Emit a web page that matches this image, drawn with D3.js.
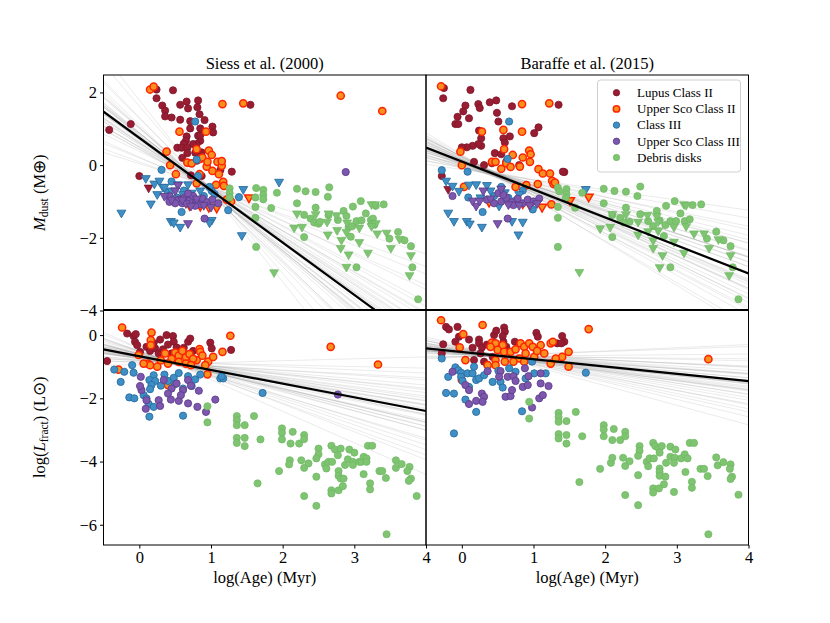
<!DOCTYPE html>
<html>
<head>
<meta charset="utf-8">
<script src="https://cdn.jsdelivr.net/npm/d3@7/dist/d3.min.js"></script>
<style>
  body { margin: 0; background: #fff; }
  svg text { font-family: "Liberation Serif", "Times New Roman", serif; }
</style>
</head>
<body>
<svg width="830" height="623"></svg>
<script>
// ---------- data (log age [Myr], value) ----------
var xTicks = [0, 1, 2, 3, 4];
var yTicksTop = [2, 0, -2, -4];
var yTicksBottom = [0, -2, -4, -6];
var titles = ["Siess et al. (2000)", "Baraffe et al. (2015)"];
var groupNames = ["Lupus Class II", "Upper Sco Class II", "Class III", "Upper Sco Class III", "Debris disks"];

// Siess, M_dust
var lupusSM = [[-0.42,0.97],[-0.12,1.13],[0.24,2.08],[0.47,2.06],[0.24,1.84],[0.32,1.64],[0.57,1.66],[0.66,1.75],[0.82,1.78],[0.68,1.56],[0.81,1.59],[0.36,1.50],[0.36,1.34],[0.45,1.31],[0.57,1.25],[0.71,1.21],[0.91,1.24],[0.84,1.40],[0.71,1.01],[0.85,1.01],[1.02,1.06],[1.03,0.90],[0.66,0.79],[0.65,0.67],[0.62,0.59],[0.82,0.81],[0.85,0.67],[0.80,0.58],[0.53,0.48],[0.59,0.48],[0.67,0.48],[0.75,0.58],[0.67,0.33],[0.78,0.34],[0.87,0.35],[0.80,0.12],[1.29,-0.18],[0.0,-0.30],[0.87,-0.30],[1.55,1.66],[0.85,0.82],[1.13,-0.14],[0.72,-0.28],[0.60,0.20]];
var lupusSM_ul = [[0.13,-0.62]];
var usco2SM = [[0.15,2.08],[0.20,2.16],[1.16,1.68],[1.45,1.70],[2.81,1.91],[3.39,1.49],[0.56,0.92],[0.93,0.92],[0.80,0.44],[0.97,0.40],[1.01,0.28],[0.38,0.37],[0.67,0.07],[0.73,0.05],[0.85,0.17],[0.94,-0.04],[1.09,0.09],[1.15,-0.02],[1.02,-0.16],[1.11,-0.25],[0.43,0.0],[0.51,-0.25],[0.84,-0.25],[1.07,-0.54],[0.80,-0.50],[0.88,0.21],[0.95,0.09],[1.15,0.11],[1.17,-0.46],[1.18,-0.57],[1.28,-1.0],[1.22,-0.95],[0.62,-0.85],[0.75,-1.05]];
var usco2SM_ul = [[1.53,-0.89],[1.08,-1.17],[0.97,-1.15],[0.70,-1.10],[0.85,-1.12]];
var class3SM = [[0.78,1.20],[0.80,0.15],[0.31,-0.13],[0.82,-0.30],[0.52,-0.89],[0.59,-1.29],[1.24,-1.24],[1.01,-0.71],[1.05,-0.80],[1.39,-0.88],[0.45,-0.45],[0.62,-0.70],[0.70,-0.95],[0.90,-0.85],[0.98,-0.60],[0.40,-0.75]];
var class3SM_ul = [[-0.25,-1.31],[0.09,-0.36],[0.21,-0.51],[0.28,-0.43],[0.33,-0.60],[0.35,-0.60],[0.16,-1.06],[0.44,-1.54],[0.48,-1.58],[0.57,-1.70],[0.68,-0.53],[0.54,-0.53],[1.45,-0.66],[1.43,-1.93],[1.01,-1.51],[0.98,-1.58],[0.61,-0.80],[0.73,-0.76],[1.95,-0.46],[0.45,-0.70],[0.85,-0.70],[0.25,-0.80]];
var usco3SM = [[0.42,-0.85],[0.42,-1.01],[0.91,-1.47],[2.88,-0.19],[0.55,-0.95],[0.63,-0.90],[0.70,-0.98],[0.75,-0.85],[0.80,-1.00],[0.88,-0.92],[0.95,-1.02],[1.02,-0.95],[0.60,-1.05],[0.85,-1.08],[0.68,-0.78],[0.50,-1.05],[0.78,-1.12],[1.10,-1.05]];
var usco3SM_ul = [[0.68,-1.60],[0.54,-0.55],[0.50,-0.70],[0.65,-1.05],[0.90,-1.10],[0.60,-0.95],[0.80,-0.92],[0.72,-1.12],[1.00,-1.15],[0.45,-0.95],[0.35,-0.85]];
var debrisSM = [[1.26,-0.64],[1.26,-0.77],[1.26,-0.89],[1.63,-0.63],[1.73,-0.68],[1.73,-0.82],[1.73,-0.94],[1.62,-0.89],[1.62,-1.15],[1.62,-1.45],[1.63,-2.25],[1.84,-1.18],[1.92,-0.76],[2.20,-0.65],[2.32,-0.72],[2.46,-0.74],[2.65,-0.61],[2.63,-0.87],[2.20,-1.05],[2.46,-1.17],[2.30,-1.37],[2.39,-1.47],[2.44,-1.58],[2.50,-1.61],[2.52,-1.56],[2.64,-1.38],[2.77,-1.51],[2.85,-1.26],[2.89,-1.40],[2.92,-1.70],[2.97,-1.68],[3.03,-1.54],[3.09,-0.99],[2.98,-1.14],[3.16,-1.33],[3.10,-1.52],[3.23,-1.51],[3.26,-1.47],[3.30,-1.12],[3.41,-1.08],[2.95,-1.97],[3.03,-2.81],[2.30,-1.98],[3.61,-1.84],[3.70,-2.07],[3.49,-2.02],[3.79,-2.23],[3.81,-2.81],[3.89,-3.69],[3.24,-1.62],[3.28,-1.64]];
var debrisSM_ul = [[2.20,-1.33],[2.16,-1.72],[2.27,-1.70],[2.46,-1.35],[2.64,-1.33],[2.62,-1.56],[2.63,-1.91],[2.75,-1.38],[2.76,-1.79],[2.82,-2.06],[2.81,-2.28],[2.90,-1.58],[2.89,-1.84],[2.92,-2.46],[2.89,-2.80],[3.07,-2.12],[3.07,-1.72],[3.19,-2.41],[3.24,-1.08],[3.29,-1.08],[3.30,-1.60],[3.24,-1.68],[3.32,-1.88],[3.45,-1.86],[3.51,-2.28],[3.63,-2.03],[3.79,-2.48],[3.77,-3.03],[1.88,-2.95]];

// Baraffe, M_dust
var lupusBM = [[-0.25,2.12],[-0.26,1.84],[0.12,2.07],[0.05,1.64],[0.02,1.48],[-0.06,1.33],[-0.09,1.13],[-0.05,1.13],[0.10,1.29],[0.23,1.68],[0.25,1.57],[0.39,1.73],[0.48,1.78],[0.70,1.62],[0.49,1.44],[0.51,1.20],[0.24,0.95],[0.27,0.74],[0.27,0.53],[0.23,0.58],[0.15,0.53],[0.07,0.49],[0.0,0.49],[0.58,0.74],[0.60,0.62],[0.67,0.79],[0.46,0.33],[1.01,0.88],[1.07,1.04],[1.35,1.66],[0.17,0.09],[0.31,0.0],[-0.28,-0.30],[1.43,-0.19],[0.80,0.0],[0.42,0.05],[1.41,-0.18],[0.55,0.30],[0.62,0.10]];
var lupusBM_ul = [[-0.19,-0.66]];
var usco2BM = [[-0.29,2.17],[0.84,1.68],[1.22,1.70],[0.28,0.92],[0.58,0.97],[0.59,0.44],[0.84,0.92],[-0.02,0.37],[0.71,0.28],[0.85,0.21],[0.94,0.40],[0.96,0.30],[0.42,0.09],[0.47,0.09],[0.81,-0.04],[0.95,0.09],[1.07,-0.11],[1.13,-0.23],[1.23,-0.23],[1.26,-0.43],[1.28,-0.52],[0.0,0.0],[0.03,-0.60],[1.06,-0.52],[1.25,-1.08],[0.62,0.05],[0.68,-0.05],[0.55,-0.10],[1.30,-0.48],[0.75,-0.60],[0.90,-0.55]];
var usco2BM_ul = [[0.38,-1.01],[1.77,-0.87],[1.12,-1.15],[0.95,-1.10],[1.51,-0.97],[0.85,-1.05]];
var class3BM = [[0.66,1.20],[0.64,0.17],[-0.28,-0.14],[0.08,-0.18],[0.09,-0.89],[0.29,-1.29],[0.99,-1.22],[0.85,-0.70],[0.65,-0.90],[0.45,-0.85],[0.75,-0.98],[0.55,-0.60]];
var class3BM_ul = [[-0.22,-0.43],[-0.19,-1.31],[-0.11,-1.54],[0.07,-1.54],[0.11,-1.61],[0.28,-1.70],[-0.04,-0.71],[-0.13,-0.57],[0.10,-0.54],[0.20,-0.53],[0.52,-1.12],[0.70,-1.54],[0.85,-1.56],[0.79,-1.91],[1.73,-0.66],[0.26,-0.89],[0.40,-0.70],[0.60,-0.75],[0.35,-0.55],[0.80,-0.80]];
var usco3BM = [[-0.13,-0.85],[0.51,-0.77],[0.64,-1.47],[0.35,-0.95],[0.55,-1.00],[0.62,-0.90],[0.70,-1.02],[0.78,-0.92],[0.85,-1.05],[0.92,-0.95],[1.00,-1.00],[0.45,-1.05],[0.72,-1.10],[1.08,-0.92],[0.58,-0.82]];
var usco3BM_ul = [[0.50,-1.60],[0.20,-1.12],[0.15,-0.98],[0.25,-0.98],[0.40,-0.92],[0.65,-1.08],[0.80,-1.10],[0.95,-1.10],[1.05,-1.05],[0.30,-0.70],[0.55,-0.65]];
var debrisBM = [[1.34,-0.62],[1.46,-0.66],[1.46,-0.80],[1.68,-0.76],[1.34,-1.15],[1.34,-1.45],[1.34,-2.25],[1.58,-1.17],[1.98,-0.65],[2.13,-0.71],[2.29,-0.73],[2.49,-0.59],[2.45,-0.85],[1.98,-1.05],[2.29,-1.17],[2.10,-1.37],[2.21,-1.45],[2.34,-1.56],[2.26,-1.58],[2.49,-1.35],[2.60,-1.54],[2.67,-1.68],[2.72,-1.26],[2.76,-1.52],[2.84,-1.65],[2.85,-1.12],[2.97,-0.99],[3.05,-1.33],[2.91,-1.54],[2.99,-1.54],[3.11,-1.54],[3.18,-1.49],[3.22,-1.10],[3.34,-1.08],[2.82,-1.95],[2.10,-1.98],[2.91,-2.81],[3.55,-1.83],[3.65,-2.07],[3.42,-2.02],[3.75,-2.23],[3.78,-2.81],[3.86,-3.69],[1.36,-0.72],[1.45,-0.90]];
var debrisBM_ul = [[1.93,-1.74],[2.07,-1.70],[2.10,-1.35],[2.29,-1.35],[2.46,-1.56],[2.46,-1.91],[2.59,-1.37],[2.60,-1.82],[2.67,-2.07],[2.67,-2.28],[2.72,-1.40],[2.74,-1.55],[2.74,-1.80],[2.80,-2.48],[2.76,-2.81],[2.96,-2.11],[2.96,-1.70],[3.10,-2.41],[3.10,-1.08],[3.13,-1.10],[3.13,-1.68],[3.24,-1.88],[3.38,-1.88],[3.45,-2.28],[3.58,-2.04],[3.75,-2.48],[3.73,-3.03],[1.64,-2.94]];

// Siess, L_fract
var lupusSL = [[-0.45,-0.82],[-0.17,0.05],[-0.08,-0.03],[-0.05,0.03],[-0.06,-0.21],[-0.03,-0.32],[0.10,-0.37],[0.15,-0.50],[0.22,-0.42],[0.29,-0.14],[0.38,0.0],[0.47,-0.03],[0.48,-0.21],[0.52,-0.39],[0.68,-0.21],[0.71,-0.11],[0.59,-0.58],[0.99,-0.24],[1.01,-0.42],[1.28,-0.47],[0.27,-0.58],[0.45,-0.58],[0.01,-0.53],[0.33,-0.45],[0.40,-0.30],[0.62,-0.40],[0.75,-0.50],[0.20,-0.25]];
var usco2SL = [[-0.24,0.24],[0.17,0.08],[0.16,-0.16],[0.16,-0.32],[1.27,-0.02],[1.16,-0.53],[0.84,-0.44],[0.85,-0.53],[0.80,-0.79],[0.96,-0.84],[1.03,-0.69],[0.36,-0.58],[0.12,-0.90],[0.15,-0.95],[0.06,-0.90],[-0.29,-1.09],[0.40,-1.58],[-0.01,-0.63],[0.95,-1.24],[2.67,-0.37],[3.33,-0.93],[0.50,-0.55],[0.55,-0.65],[0.60,-0.50],[0.65,-0.70],[0.70,-0.60],[0.75,-0.75],[0.45,-0.75],[0.55,-0.85],[0.65,-0.90],[0.72,-0.95],[0.40,-0.90],[0.30,-0.80],[0.88,-0.65],[0.92,-0.95],[0.25,-1.00]];
var class3SL = [[-0.35,-1.09],[-0.21,-1.16],[-0.08,-1.19],[-0.10,-0.95],[-0.26,-1.48],[-0.14,-1.97],[-0.07,-2.00],[0.14,-2.58],[0.20,-1.27],[0.14,-1.42],[0.22,-1.45],[0.17,-1.58],[0.15,-1.71],[0.06,-1.90],[0.10,-2.00],[0.13,-2.18],[0.20,-2.27],[0.61,-2.55],[0.61,-1.69],[0.73,-1.61],[1.13,-1.37],[1.17,-1.37],[1.15,-1.30],[1.72,-1.83],[0.35,-1.25],[0.40,-1.45],[0.48,-1.35],[0.55,-1.20],[0.68,-1.30],[0.78,-1.40],[0.85,-1.25],[0.30,-1.60],[0.50,-1.55]];
var usco3SL = [[0.02,-1.32],[0.03,-1.74],[0.01,-1.61],[0.10,-2.06],[0.09,-2.33],[0.27,-2.06],[0.29,-2.24],[0.44,-2.04],[0.55,-2.08],[0.68,-2.16],[0.81,-2.27],[0.93,-2.43],[1.06,-2.04],[0.83,-1.76],[0.34,-1.42],[0.45,-1.69],[0.61,-1.74],[0.52,-1.53],[0.68,-1.42],[2.77,-1.88],[0.40,-1.85],[0.58,-1.90],[0.72,-1.60]];
var debrisSL = [[0.95,-2.25],[0.95,-2.76],[1.36,-2.56],[1.36,-2.69],[1.36,-2.85],[1.47,-2.85],[1.60,-2.56],[1.36,-3.25],[1.36,-3.41],[1.47,-3.25],[1.47,-3.51],[1.69,-3.30],[1.65,-4.69],[1.99,-2.95],[1.99,-3.09],[1.99,-3.30],[2.14,-3.06],[2.11,-3.43],[2.23,-3.43],[2.30,-3.16],[2.30,-3.29],[1.95,-4.30],[2.10,-3.96],[2.09,-4.09],[2.26,-3.96],[2.30,-4.20],[2.36,-4.06],[2.47,-4.48],[2.30,-5.09],[2.47,-5.40],[2.50,-3.59],[2.50,-3.77],[2.47,-3.90],[2.59,-4.09],[2.61,-4.22],[2.64,-4.01],[2.68,-3.50],[2.73,-3.62],[2.77,-3.80],[2.81,-3.59],[2.69,-4.01],[2.78,-4.30],[2.78,-4.45],[2.81,-4.54],[2.85,-4.54],[2.68,-4.91],[2.68,-5.01],[2.78,-4.91],[2.84,-4.78],[2.87,-4.11],[2.93,-3.62],[3.00,-3.72],[2.91,-3.93],[2.98,-4.01],[2.98,-4.11],[3.07,-4.01],[3.10,-4.01],[3.13,-3.85],[3.17,-3.90],[3.17,-4.01],[3.13,-4.40],[3.19,-3.50],[3.25,-3.50],[3.22,-4.69],[3.22,-4.88],[3.35,-4.30],[3.39,-4.30],[3.44,-4.52],[3.58,-3.96],[3.58,-4.20],[3.66,-4.08],[3.77,-4.17],[3.74,-4.30],[3.79,-4.54],[3.76,-4.61],[3.87,-5.09],[3.45,-6.30]];

// Baraffe, L_fract
var lupusBL = [[-0.22,0.26],[-0.18,0.18],[-0.06,0.26],[-0.04,-0.05],[-0.09,-0.21],[-0.26,-0.29],[-0.28,-0.58],[0.10,-0.14],[0.24,-0.14],[0.24,-0.26],[0.28,-0.39],[0.45,0.0],[0.48,0.14],[0.59,0.24],[0.60,0.11],[0.57,-0.03],[0.58,-0.21],[0.62,-0.37],[0.74,-0.21],[1.04,0.07],[1.06,-0.05],[1.33,-0.26],[1.40,-0.03],[1.43,-0.21],[0.26,-0.58],[0.31,-0.84],[0.17,-0.79],[0.43,-0.69],[1.39,-0.26],[0.35,-0.30],[0.50,-0.45],[0.15,-0.40]];
var usco2BL = [[-0.29,0.47],[0.29,0.32],[0.02,0.03],[1.77,0.19],[0.42,-0.24],[0.47,-0.26],[0.57,-0.32],[0.40,-0.37],[0.50,-0.47],[0.59,-0.53],[0.68,-0.53],[0.82,-0.26],[0.87,-0.37],[0.94,-0.26],[0.99,-0.37],[1.10,-0.32],[1.15,-0.58],[1.24,-0.26],[1.27,-0.21],[1.40,-0.69],[1.49,-0.53],[1.31,-0.74],[1.49,-1.00],[0.89,-0.58],[1.01,-0.69],[0.80,-0.74],[0.72,-0.84],[0.60,-0.84],[0.47,-0.79],[0.36,-0.95],[0.05,-0.79],[-0.03,-0.39],[0.0,-1.42],[0.47,-0.95],[0.87,-0.84],[1.24,-0.90],[3.44,-0.76],[0.75,-0.45],[1.05,-0.50]];
var class3BL = [[-0.28,-0.74],[-0.09,-1.02],[-0.05,-1.11],[-0.01,-1.19],[-0.19,-1.32],[-0.01,-1.32],[0.01,-1.45],[0.08,-1.21],[0.15,-1.21],[0.17,-1.00],[0.20,-1.42],[0.24,-1.37],[0.31,-1.27],[0.43,-1.48],[0.51,-1.13],[0.54,-1.48],[0.57,-1.66],[0.66,-1.05],[0.75,-1.16],[0.89,-1.37],[1.01,-1.21],[1.17,-1.21],[0.98,-0.84],[-0.22,-1.83],[-0.11,-1.85],[0.05,-2.04],[0.20,-2.43],[0.10,-1.64],[0.84,-2.41],[-0.11,-3.11],[1.73,-1.19]];
var usco3BL = [[-0.13,-1.16],[0.05,-1.58],[0.10,-1.74],[0.10,-2.18],[0.20,-2.08],[0.28,-1.85],[0.31,-1.95],[0.29,-2.11],[0.36,-1.14],[0.61,-1.95],[0.68,-1.93],[0.70,-1.74],[0.64,-1.32],[0.72,-1.30],[0.75,-1.45],[0.85,-1.64],[0.92,-1.58],[0.93,-1.30],[0.88,-1.05],[1.10,-1.21],[1.10,-1.53],[1.21,-1.61],[1.08,-2.00],[1.13,-1.90],[0.98,-2.29],[0.54,-1.14],[0.52,-1.32]];
var debrisBL = [[0.94,-2.11],[0.94,-2.64],[1.35,-2.46],[1.35,-2.59],[1.35,-2.74],[1.46,-2.72],[1.59,-2.43],[1.35,-3.13],[1.35,-3.27],[1.46,-3.16],[1.46,-3.43],[1.68,-3.20],[1.64,-4.65],[1.98,-2.85],[1.98,-2.99],[1.98,-3.20],[2.12,-2.97],[2.10,-3.32],[2.21,-3.32],[2.28,-3.06],[2.28,-3.20],[1.93,-4.23],[2.08,-4.04],[2.10,-3.88],[2.25,-3.88],[2.28,-4.14],[2.34,-3.99],[2.28,-5.06],[2.46,-5.38],[2.46,-4.43],[2.48,-3.51],[2.48,-3.66],[2.46,-3.82],[2.58,-4.01],[2.60,-4.15],[2.62,-3.90],[2.68,-3.90],[2.67,-3.41],[2.70,-3.51],[2.75,-3.59],[2.76,-3.72],[2.79,-3.51],[2.76,-4.22],[2.76,-4.33],[2.76,-4.45],[2.84,-4.48],[2.85,-4.04],[2.91,-3.53],[2.98,-3.62],[2.91,-3.85],[2.97,-3.88],[2.96,-4.04],[2.82,-4.72],[2.67,-4.85],[2.67,-4.98],[2.75,-4.85],[2.96,-4.96],[3.06,-3.90],[3.11,-3.77],[3.15,-3.90],[3.12,-4.33],[3.18,-3.41],[3.24,-3.41],[3.21,-4.64],[3.21,-4.83],[3.33,-4.23],[3.38,-4.23],[3.43,-4.46],[3.55,-3.87],[3.57,-4.12],[3.65,-4.02],[3.75,-4.09],[3.74,-4.23],[3.77,-4.48],[3.75,-4.55],[3.86,-5.05],[3.44,-6.30]];

// best fits: [intercept, slope]
var fitSM = [0.75, -1.44];
var fitBM = [0.10, -0.77];
var fitSL = [-0.67, -0.433];
var fitBL = [-0.535, -0.23];

// posterior sample lines: [slope, value at pivot age]
var pivotSM = 1.0, pivotBM = 0.5, pivotSL = 0.5, pivotBL = 0.5;
var samplesSM = [[-1.44,-0.69],[-1.30,-0.64],[-1.55,-0.73],[-1.20,-0.61],[-1.65,-0.75],[-1.38,-0.67],[-1.50,-0.78],[-1.10,-0.59],[-1.75,-0.72],[-1.25,-0.63],[-1.60,-0.76],[-0.95,-0.57],[-1.85,-0.80],[-1.42,-0.66],[-1.33,-0.71],[-1.48,-0.62],[-2.05,-0.74],[-0.80,-0.60],[-1.58,-0.77],[-1.15,-0.65],[-1.70,-0.70],[-2.30,-0.68],[-0.62,-0.58],[-1.36,-0.75],[-1.52,-0.64],[-1.28,-0.72],[-1.95,-0.66],[-1.05,-0.61],[-1.62,-0.73],[-2.50,-0.71],[-0.72,-0.63],[-1.40,-0.70],[-1.46,-0.67],[-1.22,-0.74],[-1.68,-0.65],[-1.90,-0.79],[-1.12,-0.69],[-1.34,-0.62],[-1.56,-0.68],[-0.88,-0.66]];
var samplesBM = [[-0.77,-0.29],[-0.65,-0.25],[-0.88,-0.31],[-0.55,-0.22],[-0.95,-0.33],[-0.72,-0.27],[-0.82,-0.35],[-0.45,-0.20],[-1.05,-0.30],[-0.60,-0.26],[-0.90,-0.24],[-0.35,-0.23],[-1.15,-0.36],[-0.75,-0.32],[-0.68,-0.28],[-0.85,-0.22],[-0.50,-0.30],[-1.00,-0.27],[-0.78,-0.24],[-0.62,-0.34],[-0.93,-0.29],[-0.28,-0.26],[-1.20,-0.31],[-0.70,-0.21],[-0.80,-0.33],[-0.58,-0.30],[-0.98,-0.25],[-0.40,-0.28],[-0.86,-0.27],[-0.74,-0.36],[-0.66,-0.23],[-1.10,-0.28],[-0.52,-0.32],[-0.83,-0.26],[-0.76,-0.30],[-0.92,-0.21],[-0.64,-0.29],[-0.48,-0.25],[-1.02,-0.34],[-0.71,-0.31]];
var samplesSL = [[-0.43,-0.89],[-0.35,-0.86],[-0.52,-0.92],[-0.28,-0.84],[-0.60,-0.90],[-0.40,-0.95],[-0.48,-0.83],[-0.20,-0.88],[-0.70,-0.87],[-0.33,-0.91],[-0.55,-0.85],[-0.12,-0.93],[-0.78,-0.89],[-0.45,-0.82],[-0.38,-0.90],[-0.50,-0.94],[-0.05,-0.87],[-0.88,-0.86],[-0.42,-0.92],[-0.30,-0.88],[-0.62,-0.84],[0.06,-0.90],[-1.00,-0.91],[-0.47,-0.86],[-0.36,-0.93],[-0.57,-0.88],[-0.25,-0.85],[-0.66,-0.95],[-0.44,-0.87],[-0.15,-0.89],[-0.82,-0.92],[-0.39,-0.84],[-0.53,-0.90],[-0.32,-0.87],[-0.74,-0.88],[-0.22,-0.91],[-0.46,-0.93],[-0.58,-0.86],[-0.10,-0.85],[-0.41,-0.88]];
var samplesBL = [[-0.23,-0.65],[-0.18,-0.62],[-0.28,-0.68],[-0.12,-0.60],[-0.34,-0.67],[-0.21,-0.70],[-0.26,-0.61],[-0.05,-0.64],[-0.40,-0.66],[-0.15,-0.69],[-0.31,-0.63],[0.02,-0.67],[-0.48,-0.65],[-0.24,-0.60],[-0.19,-0.68],[-0.29,-0.71],[0.08,-0.64],[-0.55,-0.66],[-0.22,-0.69],[-0.14,-0.63],[-0.36,-0.62],[-0.62,-0.67],[-0.09,-0.66],[-0.26,-0.64],[-0.20,-0.72],[-0.32,-0.65],[-0.17,-0.61],[-0.42,-0.70],[-0.25,-0.66],[-0.02,-0.68],[-0.45,-0.63],[-0.21,-0.62],[-0.30,-0.69],[-0.16,-0.66],[-0.38,-0.64],[0.10,-0.65],[-0.27,-0.67],[-0.11,-0.62],[-0.50,-0.68],[-0.23,-0.70]];

// ---------- styles ----------
var groupStyles = [
  {fill: "#981c32", stroke: "#7f1629", sw: 0.8},
  {fill: "#f8901f", stroke: "#ff2400", sw: 1.5},
  {fill: "#3f8fc7", stroke: "#2a6d9e", sw: 0.9},
  {fill: "#7d56ae", stroke: "#5c3f8c", sw: 0.9},
  {fill: "#7ec471", stroke: "#70b864", sw: 0.7}
];

var panels = [
  {col: 0, row: 0, fit: fitSM, pivot: pivotSM, samples: samplesSM,
   det: [lupusSM, usco2SM, class3SM, usco3SM, debrisSM],
   ul: [lupusSM_ul, usco2SM_ul, class3SM_ul, usco3SM_ul, debrisSM_ul]},
  {col: 1, row: 0, fit: fitBM, pivot: pivotBM, samples: samplesBM,
   det: [lupusBM, usco2BM, class3BM, usco3BM, debrisBM],
   ul: [lupusBM_ul, usco2BM_ul, class3BM_ul, usco3BM_ul, debrisBM_ul]},
  {col: 0, row: 1, fit: fitSL, pivot: pivotSL, samples: samplesSL,
   det: [lupusSL, usco2SL, class3SL, usco3SL, debrisSL], ul: []},
  {col: 1, row: 1, fit: fitBL, pivot: pivotBL, samples: samplesBL,
   det: [lupusBL, usco2BL, class3BL, usco3BL, debrisBL], ul: []}
];

// ---------- layout ----------
var svg = d3.select("svg");
var colX = [103.5, 426], panelW = 322.5;
var rowY = [75, 309.5], panelH = 235.5;
var serif = "'Liberation Serif', 'Times New Roman', serif";

var x = [0, 1].map(function (c) {
  return d3.scaleLinear().domain([-0.5, 4]).range([colX[c], colX[c] + panelW]);
});
var y = [
  d3.scaleLinear().domain([-4, 2.48]).range([rowY[0] + panelH, rowY[0]]),
  d3.scaleLinear().domain([-6.64, 0.81]).range([rowY[1] + panelH, rowY[1]])
];

var defs = svg.append("defs");
var tri = d3.symbol().type(d3.symbolTriangle).size(34);

panels.forEach(function (p, i) {
  var xs = x[p.col], ys = y[p.row];
  defs.append("clipPath").attr("id", "clip" + i)
    .append("rect")
      .attr("x", colX[p.col]).attr("y", rowY[p.row])
      .attr("width", panelW).attr("height", panelH);

  var g = svg.append("g").attr("clip-path", "url(#clip" + i + ")");

  // gray sample lines
  g.selectAll("line.sample")
    .data(p.samples)
    .enter().append("line")
      .attr("class", "sample")
      .attr("x1", xs(-0.5))
      .attr("y1", function (d) { return ys(d[1] + d[0] * (-0.5 - p.pivot)); })
      .attr("x2", xs(4))
      .attr("y2", function (d) { return ys(d[1] + d[0] * (4 - p.pivot)); })
      .attr("stroke", "#8c8c8c")
      .attr("stroke-opacity", 0.2)
      .attr("stroke-width", 0.9);

  // points, group by group
  p.det.forEach(function (data, k) {
    var st = groupStyles[k];
    g.selectAll("circle.g" + k)
      .data(data)
      .enter().append("circle")
        .attr("class", "g" + k)
        .attr("cx", function (d) { return xs(d[0]); })
        .attr("cy", function (d) { return ys(d[1]); })
        .attr("r", 3.6)
        .attr("fill", st.fill)
        .attr("stroke", st.stroke)
        .attr("stroke-width", st.sw);
    if (p.ul[k]) {
      g.selectAll("path.u" + k)
        .data(p.ul[k])
        .enter().append("path")
          .attr("class", "u" + k)
          .attr("d", tri)
          .attr("transform", function (d) {
            return "translate(" + xs(d[0]) + "," + ys(d[1]) + ") rotate(180)";
          })
          .attr("fill", st.fill)
          .attr("stroke", st.stroke)
          .attr("stroke-width", st.sw);
    }
  });

  // best fit
  g.append("line")
    .attr("x1", xs(-0.5)).attr("y1", ys(p.fit[0] + p.fit[1] * -0.5))
    .attr("x2", xs(4)).attr("y2", ys(p.fit[0] + p.fit[1] * 4))
    .attr("stroke", "#000")
    .attr("stroke-width", 2.2);

  // frame
  svg.append("rect")
    .attr("x", colX[p.col]).attr("y", rowY[p.row])
    .attr("width", panelW).attr("height", panelH)
    .attr("fill", "none").attr("stroke", "#000").attr("stroke-width", 1);

  // axes
  if (p.col === 0) {
    var ay = svg.append("g")
      .attr("transform", "translate(" + colX[0] + ",0)")
      .call(d3.axisLeft(ys).tickValues(p.row === 0 ? yTicksTop : yTicksBottom)
        .tickSize(3.5).tickPadding(3).tickFormat(d3.format("d")));
    ay.select(".domain").remove();
    ay.selectAll("text").style("font-family", serif).style("font-size", "16.5px").attr("fill", "#000");
  }
  if (p.row === 1) {
    var ax = svg.append("g")
      .attr("transform", "translate(0," + (rowY[1] + panelH) + ")")
      .call(d3.axisBottom(xs).tickValues(xTicks).tickSize(3.5).tickPadding(3)
        .tickFormat(d3.format("d")));
    ax.select(".domain").remove();
    ax.selectAll("text").style("font-family", serif).style("font-size", "16.5px").attr("fill", "#000");
  }
});

// titles
titles.forEach(function (t, c) {
  svg.append("text")
    .attr("x", colX[c] + panelW / 2).attr("y", 69)
    .attr("text-anchor", "middle").attr("font-size", 16.5)
    .text(t);
  svg.append("text")
    .attr("x", colX[c] + panelW / 2).attr("y", 583)
    .attr("text-anchor", "middle").attr("font-size", 16.5)
    .text("log(Age) (Myr)");
});

// y labels
var yl1 = svg.append("text")
  .attr("transform", "translate(45," + (rowY[0] + panelH / 2) + ") rotate(-90)")
  .attr("text-anchor", "middle").attr("font-size", 16.5);
yl1.append("tspan").attr("font-style", "italic").text("M");
yl1.append("tspan").attr("font-size", 11.5).attr("dy", 3).text("dust");
yl1.append("tspan").attr("dy", -3).text(" (M\u2295)");

var yl2 = svg.append("text")
  .attr("transform", "translate(45," + (rowY[1] + panelH / 2) + ") rotate(-90)")
  .attr("text-anchor", "middle").attr("font-size", 16.5);
yl2.append("tspan").text("log(");
yl2.append("tspan").attr("font-style", "italic").text("L");
yl2.append("tspan").attr("font-size", 11.5).attr("dy", 3).text("fract");
yl2.append("tspan").attr("dy", -3).text(") (L\u2299)");

// legend
var leg = svg.append("g");
leg.append("rect")
  .attr("x", 597.5).attr("y", 80).attr("width", 143).attr("height", 92)
  .attr("rx", 3).attr("fill", "#fff").attr("fill-opacity", 0.85)
  .attr("stroke", "#d0d0d0").attr("stroke-width", 1);
groupNames.forEach(function (name, k) {
  var yy = 92.7 + k * 16.2;
  leg.append("circle")
    .attr("cx", 616.5).attr("cy", yy).attr("r", 3.2)
    .attr("fill", groupStyles[k].fill).attr("stroke", groupStyles[k].stroke)
    .attr("stroke-width", groupStyles[k].sw);
  leg.append("text")
    .attr("x", 637).attr("y", yy + 4.3)
    .attr("font-size", 13)
    .text(name);
});
</script>
</body>
</html>
